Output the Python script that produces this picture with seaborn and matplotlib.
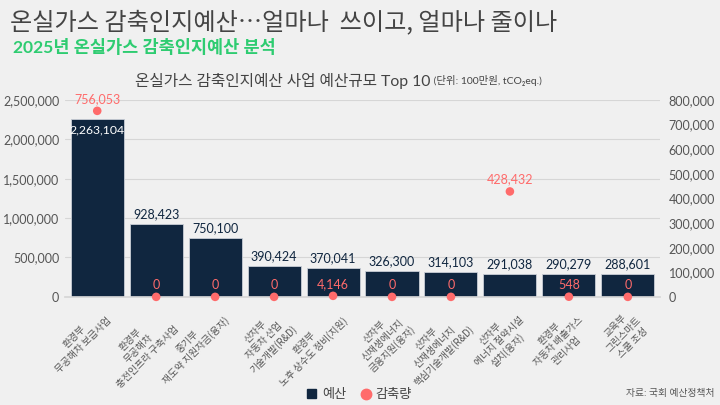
import numpy as np
import pandas as pd
import matplotlib.pyplot as plt
import seaborn as sns
from matplotlib.ticker import FuncFormatter

# values (budget: 100만원, reduction: tCO2eq.)
labels = [
    '환경부\n무공해차 보급사업',
    '환경부\n무공해차\n충전인프라 구축사업',
    '중기부\n재도약 지원자금(융자)',
    '산자부\n자동차 산업\n기술개발(R&D)',
    '환경부\n노후 상수도 정비(지원)',
    '산자부\n신재생에너지\n금융지원(융자)',
    '산자부\n신재생에너지\n핵심기술개발(R&D)',
    '산자부\n에너지 절약시설\n설치(융자)',
    '환경부\n자동차 배출가스\n관리사업',
    '교육부\n그린스마트\n스쿨 조성',
]
budget = [2263104, 928423, 750100, 390424, 370041, 326300, 314103, 291038, 290279, 288601]
reduction = [756053, 0, 0, 0, 4146, 0, 0, 428432, 548, 0]

navy = '#10263f'
coral = '#ff6b6b'
bg = '#f0f0f0'

sns.set_theme(style='white')
plt.rcParams['font.family'] = ['Lato', 'Noto Sans CJK KR', 'DejaVu Sans']

df = pd.DataFrame({'label': labels, 'budget': budget, 'reduction': reduction})
df['x'] = np.arange(len(df))

fig = plt.figure(figsize=(7.2, 4.05), dpi=100, facecolor=bg)
ax = fig.add_axes([0.09, 0.267, 0.827, 0.486], facecolor=bg)

sns.barplot(data=df, x='x', y='budget', color=navy, width=0.9, saturation=1,
            edgecolor='#c8ced6', linewidth=0.6, ax=ax, zorder=2)
ax.set_ylim(0, 2500000)
ax.set_yticks(range(0, 2500001, 500000))
ax.yaxis.set_major_formatter(FuncFormatter(lambda v, p: f'{int(v):,}'))
ax.grid(axis='y', color='#d6d6d6', linewidth=0.8, zorder=0)
ax.set_axisbelow(True)
ax.set_xlabel('')
ax.set_ylabel('')
ax.tick_params(axis='y', labelsize=9, colors='#555555', length=0, pad=4)
ax.set_xticks(df['x'])
ax.set_xticklabels(df['label'], rotation=45, ha='right', rotation_mode='anchor',
                   multialignment='center', fontsize=7, color='#555555', linespacing=1.25,
                   family=['Noto Sans CJK KR', 'DejaVu Sans'])
ax.tick_params(axis='x', length=0, pad=7)
ax.set_xlim(-0.55, len(df) - 0.45)
for s in ['top', 'right', 'left']:
    ax.spines[s].set_visible(False)
ax.spines['bottom'].set_color('#d6d6d6')

for i, v in enumerate(budget):
    if i == 0:
        ax.text(i, v - 70000, f'{v:,}', ha='center', va='top', color='white', fontsize=8.8)
    else:
        ax.text(i, v + 50000, f'{v:,}', ha='center', va='bottom', color=navy, fontsize=9)

ax2 = ax.twinx()
sns.scatterplot(data=df, x='x', y='reduction', color=coral, s=38, edgecolor='none',
                ax=ax2, zorder=5, clip_on=False)
ax2.set_ylim(0, 800000)
ax2.set_yticks(range(0, 800001, 100000))
ax2.yaxis.set_major_formatter(FuncFormatter(lambda v, p: f'{int(v):,}'))
ax2.tick_params(axis='y', labelsize=9, colors='#555555', length=0, pad=6)
ax2.set_ylabel('')
for s in ['top', 'right', 'left', 'bottom']:
    ax2.spines[s].set_visible(False)

for i, v in enumerate(reduction):
    ax2.text(i, v + 25000, f'{v:,}', ha='center', va='bottom', color=coral, fontsize=9)

fig.text(0.014, 0.945, '온실가스 감축인지예산…얼마나  쓰이고, 얼마나 줄이나', fontsize=17.4,
         color='#444444', va='center', ha='left', family=['Noto Sans CJK KR', 'DejaVu Sans'])
fig.text(0.018, 0.883, '2025년 온실가스 감축인지예산 분석', fontsize=12.6,
         color='#2ecc71', fontweight='bold', va='center', ha='left')
fig.text(0.598, 0.80, '온실가스 감축인지예산 사업 예산규모 Top 10', fontsize=11.3,
         color='#444444', va='center', ha='right')
fig.text(0.598, 0.80, ' (단위: 100만원, tCO₂eq.)', fontsize=7.5,
         color='#444444', va='center', ha='left')

# legend
fig.patches.append(plt.Rectangle((0.427, 0.017), 0.0125, 0.022, transform=fig.transFigure,
                                 color=navy, figure=fig))
fig.text(0.447, 0.028, '예산', fontsize=9.5, color='#444444', va='center')
fig.lines.append(plt.Line2D([0.508], [0.028], marker='o', markersize=7.5, color=coral,
                            transform=fig.transFigure, figure=fig))
fig.text(0.522, 0.028, '감축량', fontsize=9.5, color='#444444', va='center')

fig.text(0.993, 0.028, '자료: 국회 예산정책처', fontsize=7, color='#555555', ha='right', va='center')

fig.savefig('out.png', dpi=100, facecolor=bg)
